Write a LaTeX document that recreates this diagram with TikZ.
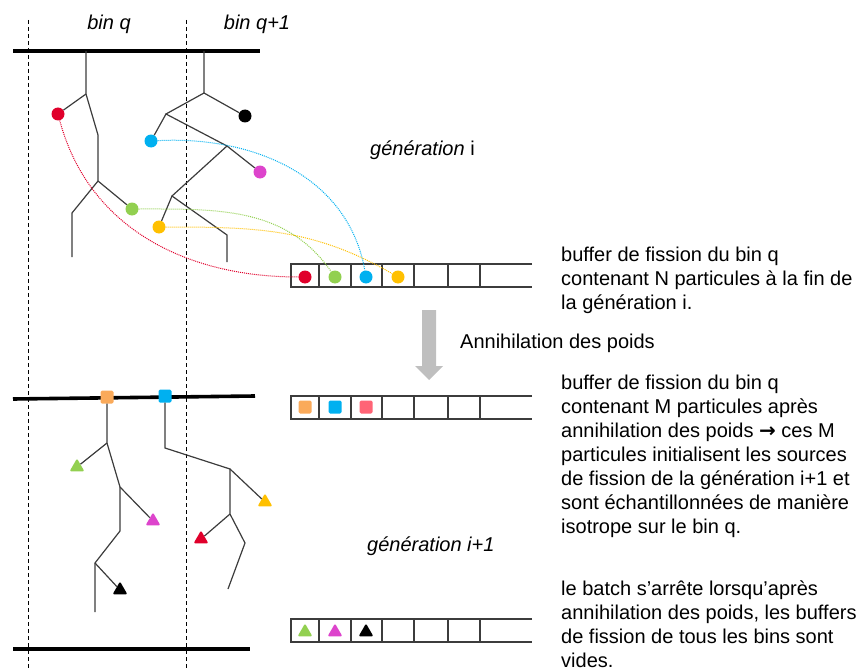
\documentclass[tikz,border=0pt]{standalone}
\usepackage{fontspec}
\setmainfont{Liberation Sans}
\newfontfamily\arrowfont{DejaVu Sans}
\usetikzlibrary{shapes.geometric}
\definecolor{cred}{RGB}{224,0,43}
\definecolor{cgreen}{RGB}{146,208,80}
\definecolor{ccyan}{RGB}{0,176,240}
\definecolor{cyellow}{RGB}{255,192,0}
\definecolor{cmagenta}{RGB}{221,68,204}
\definecolor{corange}{RGB}{250,170,90}
\definecolor{cpink}{RGB}{255,100,118}
\definecolor{arrowgray}{RGB}{191,191,191}
\definecolor{branch}{RGB}{60,60,60}
\begin{document}
\begin{tikzpicture}[x=1pt, y=1pt,
  font=\fontsize{20}{24}\selectfont,
  wall/.style={line width=3.6pt, black},
  binline/.style={dash pattern=on 4pt off 3pt, line width=0.9pt},
  track/.style={branch, line width=1.2pt},
  cell/.style={branch, line width=1.4pt},
  link/.style={densely dotted, line width=1pt},
  dot/.style={circle, fill=#1, inner sep=0pt, minimum size=13pt},
  sq/.style={rectangle, fill=#1, rounded corners=1.5pt, inner sep=0pt, minimum size=13pt},
  tri/.style={regular polygon, regular polygon sides=3, fill=#1, rounded corners=1.2pt, inner sep=0pt, minimum size=17pt},
  note/.style={anchor=base west, inner sep=0pt},
  block/.style={anchor=north west, inner sep=0pt, align=left}]
\useasboundingbox (0,0) rectangle (863,-669);

% bins and boundaries
\draw[binline] (28,-20) -- (28,-669);
\draw[binline] (186,-20) -- (186,-669);
\draw[wall] (13,-51) -- (260,-51);
\draw[wall] (13,-399) -- (255,-396);
\draw[wall] (13,-649) -- (250,-649);
\node[anchor=base] (binq) at (109,-30) {\itshape bin q};
\node[anchor=base] (binqq) at (257,-30) {\itshape bin q+1};

% fission buffers
\foreach \yt in {264,396,619} {
  \draw[cell] (532,-\yt) -- (291,-\yt) -- (291,-\yt-23) -- (532,-\yt-23);
  \foreach \xw in {319,351,382,414,448,480}
    \draw[cell] (\xw,-\yt) -- (\xw,-\yt-23);
}
\node[dot=cred] (bred) at (305,-277) {};
\node[dot=cgreen] (bgreen) at (335,-277) {};
\node[dot=ccyan] (bcyan) at (366,-277) {};
\node[dot=cyellow] (byellow) at (398,-277) {};
\node[sq=corange] (borange) at (305,-407) {};
\node[sq=ccyan] (bblue) at (335,-407) {};
\node[sq=cpink] (bpink) at (366,-407) {};
\node[tri=cgreen] (bgtri) at (305,-632) {};
\node[tri=cmagenta] (bmtri) at (335,-632) {};
\node[tri=black] (bktri) at (366,-632) {};

% generation i
\coordinate (a0) at (86,-51);
\coordinate (a1) at (86,-94);
\coordinate (a2) at (98,-135);
\coordinate (a3) at (98,-181);
\coordinate (a4) at (72,-213);
\coordinate (a5) at (72,-257);
\node[dot=cred] (red) at (58,-114) {};
\node[dot=cgreen] (green) at (132,-209) {};
\draw[track] (a0) -- (a1) -- (a2) -- (a3) -- (a4) -- (a5);
\draw[track] (a1) -- (red);
\draw[track] (a3) -- (green);

\coordinate (b0) at (204,-51);
\coordinate (b1) at (204,-93);
\coordinate (b2) at (166,-114);
\coordinate (b3) at (227,-146);
\coordinate (b4) at (172,-196);
\coordinate (b5) at (227,-235);
\coordinate (b6) at (227,-262);
\node[dot=black] (black) at (245,-116) {};
\node[dot=ccyan] (cyan) at (151,-141) {};
\node[dot=cmagenta] (magenta) at (260,-172) {};
\node[dot=cyellow] (yellow) at (159,-227) {};
\draw[track] (b0) -- (b1) -- (b2) -- (b3) -- (b4) -- (b5) -- (b6);
\draw[track] (b1) -- (black);
\draw[track] (b2) -- (cyan);
\draw[track] (b3) -- (magenta);
\draw[track] (b4) -- (yellow);

\draw[link, cred] (red) to[out=-75, in=180] (bred);
\draw[link, ccyan] (cyan) to[out=3, in=100] (bcyan);
\draw[link, cgreen] (green) to[out=0, in=125] (bgreen);
\draw[link, cyellow] (yellow) to[out=0, in=150] (byellow);

% generation i+1
\node[sq=corange] (orange) at (107,-397) {};
\coordinate (c1) at (107,-443);
\coordinate (c2) at (120,-487);
\coordinate (c3) at (120,-531);
\coordinate (c4) at (95,-563);
\coordinate (c5) at (95,-612);
\node[tri=cgreen] (gtri) at (77,-467) {};
\node[tri=cmagenta] (mtri) at (153,-521) {};
\node[tri=black] (ktri) at (120,-590) {};
\draw[track] (orange) -- (c1) -- (c2) -- (c3) -- (c4) -- (c5);
\draw[track] (c1) -- (gtri);
\draw[track] (c2) -- (mtri);
\draw[track] (c4) -- (ktri);

\node[sq=ccyan] (blue) at (165,-396) {};
\coordinate (d1) at (165,-448);
\coordinate (d2) at (230,-469);
\coordinate (d3) at (230,-514);
\coordinate (d4) at (245,-543);
\coordinate (d5) at (228,-589);
\node[tri=cyellow] (ytri) at (265,-502) {};
\node[tri=cred] (rtri) at (201,-539) {};
\draw[track] (blue) -- (d1) -- (d2) -- (d3) -- (d4) -- (d5);
\draw[track] (d2) -- (ytri);
\draw[track] (d3) -- (rtri);

% annihilation
\fill[arrowgray] (422,-310) -- (436,-310) -- (436,-366) -- (443,-366) -- (429,-380) -- (415,-366) -- (422,-366) -- cycle;
\node[note] (annih) at (460,-348) {Annihilation des poids};

% texts
\node[note] (geni) at (370,-155) {{\itshape génération} i};
\node[note] (genii) at (367,-551) {\itshape génération i+1};
\node[block] (txtN) at (561,-246.5) {buffer de fission du bin q\\contenant N particules à la fin de\\la génération i.};
\node[block] (txtM) at (561,-374.5) {buffer de fission du bin q\\contenant M particules après\\annihilation des poids {\arrowfont\bfseries →} ces M\\particules initialisent les sources\\de fission de la génération i+1 et\\sont échantillonnées de manière\\isotrope sur le bin q.};
\node[block] (txtend) at (561,-580.5) {le batch s’arrête lorsqu’après\\annihilation des poids, les buffers\\de fission de tous les bins sont\\vides.};
\end{tikzpicture}
\end{document}
